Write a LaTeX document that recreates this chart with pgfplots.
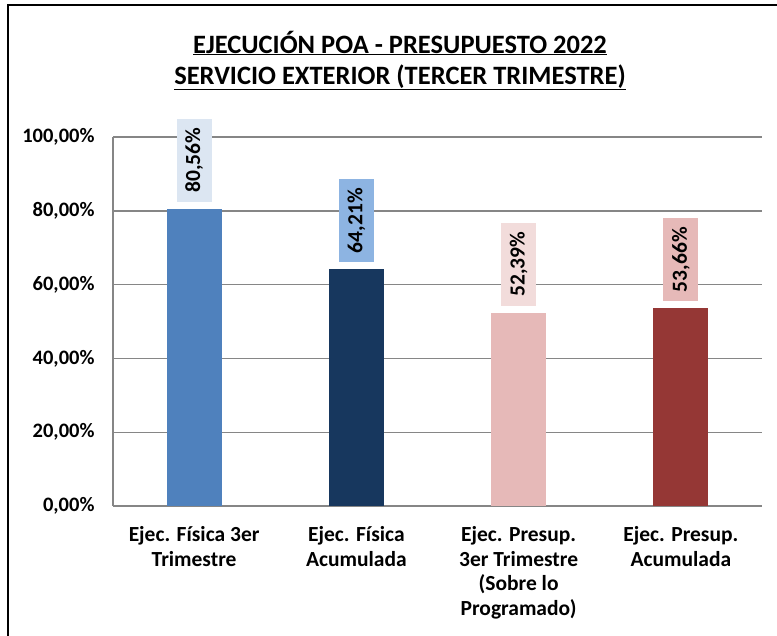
\documentclass[border=0pt]{standalone}
\usepackage{pgfplots}
\pgfplotsset{compat=1.18}
\usepackage{fontspec}
\setmainfont{Carlito}
\definecolor{b1}{HTML}{4F81BD}
\definecolor{b1l}{HTML}{DCE6F2}
\definecolor{b2}{HTML}{17375E}
\definecolor{b2l}{HTML}{8DB4E2}
\definecolor{b3}{HTML}{E6B9B8}
\definecolor{b3l}{HTML}{F2DCDB}
\definecolor{b4}{HTML}{953735}
\definecolor{b4l}{HTML}{E6B9B8}
\definecolor{gridc}{HTML}{868686}
\begin{document}
\begin{tikzpicture}
\useasboundingbox (0pt,0pt) rectangle (777pt,-635pt);
\draw[black, line width=1.5pt] (8pt,-660pt) -- (8pt,-5pt) -- (800pt,-5pt);
\node[anchor=base, font=\bfseries\fontsize{26.5}{30}\selectfont] at (400pt,-53pt) {\underline{EJECUCIÓN POA - PRESUPUESTO 2022}};
\node[anchor=base, font=\bfseries\fontsize{26.5}{30}\selectfont] at (400pt,-84pt) {\underline{SERVICIO EXTERIOR (TERCER TRIMESTRE)}};
\begin{axis}[
  at={(113pt,-506pt)}, anchor=south west,
  scale only axis, width=649pt, height=369pt,
  xmin=-0.5, xmax=3.5, ymin=0, ymax=100,
  xtick={0,1,2,3},
  xticklabels={{Ejec. Física 3er\\Trimestre},{Ejec. Física\\Acumulada},{Ejec. Presup.\\3er Trimestre\\(Sobre lo\\Programado)},{Ejec. Presup.\\Acumulada}},
  xticklabel style={align=center, font=\bfseries\fontsize{21.5}{24.5}\selectfont, yshift=-17pt},
  ytick={0,20,40,60,80,100},
  yticklabels={{0,00\%},{20,00\%},{40,00\%},{60,00\%},{80,00\%},{100,00\%}},
  yticklabel style={font=\bfseries\fontsize{20.5}{22}\selectfont, xshift=-15pt},
  major tick length=0pt,
  ymajorgrids, grid style={gridc, line width=1.4pt},
  axis x line*=bottom, axis y line*=left,
  axis line style={gridc, line width=1.4pt},
  x axis line style={-}, y axis line style={-},
  ybar, bar width=55pt,
  nodes near coords, point meta=explicit symbolic,
  every node near coord/.append style={rotate=90, anchor=west, outer xsep=7pt, inner xsep=9pt, minimum height=35pt, font=\bfseries\fontsize{21.5}{24}\selectfont, text=black},
]
\addplot[fill=b1, draw=none, bar shift=0pt, every node near coord/.append style={fill=b1l}] coordinates {(0,80.56) [80,56\%]};
\addplot[fill=b2, draw=none, bar shift=0pt, every node near coord/.append style={fill=b2l}] coordinates {(1,64.21) [64,21\%]};
\addplot[fill=b3, draw=none, bar shift=0pt, every node near coord/.append style={fill=b3l}] coordinates {(2,52.39) [52,39\%]};
\addplot[fill=b4, draw=none, bar shift=0pt, every node near coord/.append style={fill=b4l}] coordinates {(3,53.66) [53,66\%]};
\end{axis}
\end{tikzpicture}
\end{document}
